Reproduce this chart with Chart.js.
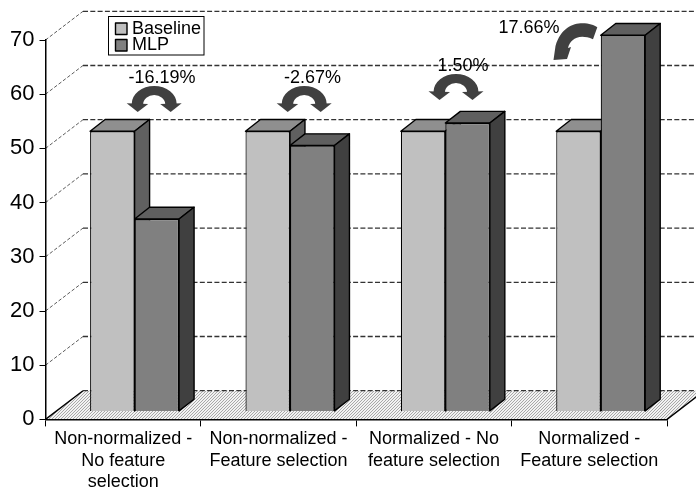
<!DOCTYPE html>
<html>
<head>
<meta charset="utf-8">
<script src="https://cdn.jsdelivr.net/npm/chart.js@4/dist/chart.umd.js"></script>
<style>
body { margin: 0; background: #fff; }
canvas { display: block; }
</style>
</head>
<body>
<canvas id="chart" width="696" height="496"></canvas>
<script>
var categories = [
    ["Non-normalized -", "No feature", "selection"],
    ["Non-normalized -", "Feature selection"],
    ["Normalized - No", "feature selection"],
    ["Normalized -", "Feature selection"]
];
var baseline = [51.7, 51.7, 51.7, 51.7];
var mlp = [35.5, 49.05, 53.2, 69.4];
var changes = ["-16.19%", "-2.67%", "1.50%", "17.66%"];

var FONT = '"Liberation Sans", Arial, sans-serif';
var wallX = 37.5, wallY = 28.7;   // back wall offset
var depthX = 15, depthY = 11.7;   // bar depth
var shiftX = 11.4, shiftY = 8;    // bars stand in the middle of the floor

function hatch() {
    var c = document.createElement('canvas');
    c.width = c.height = 3;
    var g = c.getContext('2d');
    g.fillStyle = '#f2f2f2';
    g.fillRect(0, 0, 3, 3);
    g.fillStyle = '#a8a8a8';
    g.fillRect(2, 0, 1, 1);
    g.fillRect(1, 1, 1, 1);
    g.fillRect(0, 2, 1, 1);
    return g.createPattern(c, 'repeat');
}

function poly(ctx, pts, fill, stroke) {
    ctx.beginPath();
    ctx.moveTo(pts[0], pts[1]);
    for (var i = 2; i < pts.length; i += 2) ctx.lineTo(pts[i], pts[i + 1]);
    ctx.closePath();
    ctx.fillStyle = fill;
    ctx.fill();
    if (stroke) {
        ctx.strokeStyle = stroke;
        ctx.lineWidth = 1.4;
        ctx.lineJoin = 'round';
        ctx.stroke();
    }
}

// curved arrow pointing down on both sides
function archArrow(ctx, cx, top) {
    var cy = top + 18;
    ctx.fillStyle = '#404040';
    ctx.beginPath();
    ctx.ellipse(cx, cy, 22.5, 18, 0, Math.PI, 2 * Math.PI);
    ctx.ellipse(cx, cy, 11, 9, 0, 2 * Math.PI, Math.PI, true);
    ctx.closePath();
    ctx.fill();
    poly(ctx, [cx - 27.5, top + 17.3, cx - 6, top + 18, cx - 16.5, top + 26], '#404040');
    poly(ctx, [cx + 27.5, top + 17.3, cx + 6, top + 18, cx + 16.5, top + 26], '#404040');
}

// single quarter arrow from the last MLP bar to the baseline
function cornerArrow(ctx) {
    ctx.fillStyle = '#404040';
    ctx.beginPath();
    ctx.moveTo(597.3, 27.3);
    ctx.bezierCurveTo(590, 22, 564, 17, 555.5, 46);
    ctx.lineTo(553.5, 60);
    ctx.lineTo(567, 59);
    ctx.lineTo(571, 47);
    ctx.lineTo(568, 48);
    ctx.bezierCurveTo(570, 40, 578, 33, 593, 39.3);
    ctx.closePath();
    ctx.fill();
}

var bars3d = {
    id: 'bars3d',
    // walls and floor go under the axes
    beforeDraw: function (chart) {
        var ctx = chart.ctx, a = chart.chartArea, y = chart.scales.y;
        ctx.save();
        ctx.fillStyle = '#fff';
        ctx.fillRect(0, 0, chart.width, chart.height);
        var py = y.getPixelForValue(0);
        poly(ctx, [a.left, py, a.left + wallX, py - wallY, a.right + wallX, py - wallY, a.right, py], hatch());
        ctx.strokeStyle = '#000';
        ctx.lineWidth = 1.4;
        ctx.beginPath();
        ctx.moveTo(a.left, py);
        ctx.lineTo(a.left + wallX, py - wallY);
        ctx.moveTo(a.right, py);
        ctx.lineTo(a.right + wallX, py - wallY);
        ctx.stroke();
        y.ticks.forEach(function (t) {
            var p = y.getPixelForValue(t.value);
            ctx.strokeStyle = '#333';
            ctx.setLineDash([5, 2.3]);
            ctx.lineWidth = 1.3;
            ctx.beginPath();
            ctx.moveTo(a.left + wallX, p - wallY);
            ctx.lineTo(chart.width, p - wallY);
            ctx.stroke();
            if (t.value > 0) {
                ctx.setLineDash([3.5, 2]);
                ctx.lineWidth = 0.8;
                ctx.beginPath();
                ctx.moveTo(a.left, p);
                ctx.lineTo(a.left + wallX, p - wallY);
                ctx.stroke();
            }
        });
        ctx.restore();
    },
    // tops and sides first, baseline before MLP, the fronts come from the library
    beforeDatasetsDraw: function (chart) {
        var ctx = chart.ctx;
        ctx.save();
        ctx.translate(shiftX, -shiftY);
        chart.data.datasets.forEach(function (ds, i) {
            chart.getDatasetMeta(i).data.forEach(function (bar) {
                var l = bar.x - bar.width / 2, r = bar.x + bar.width / 2;
                poly(ctx, [l, bar.y, l + depthX, bar.y - depthY, r + depthX, bar.y - depthY, r, bar.y], ds.topColor, '#000');
                poly(ctx, [r, bar.y, r + depthX, bar.y - depthY, r + depthX, bar.base - depthY, r, bar.base], ds.sideColor, '#000');
            });
        });
        ctx.restore();
    },
    beforeDatasetDraw: function (chart) {
        chart.ctx.save();
        chart.ctx.translate(shiftX, -shiftY);
    },
    afterDatasetDraw: function (chart) {
        chart.ctx.restore();
    },
    afterDatasetsDraw: function (chart) {
        var ctx = chart.ctx;
        ctx.save();
        archArrow(ctx, 154.2, 86);
        archArrow(ctx, 304.2, 86);
        archArrow(ctx, 456, 74);
        cornerArrow(ctx);

        ctx.font = '18px ' + FONT;
        ctx.textAlign = 'center';
        ctx.textBaseline = 'middle';
        ctx.fillStyle = '#000';
        ctx.fillText(changes[0], 162, 78.5);
        ctx.fillText(changes[1], 312.5, 78.5);
        ctx.fillText(changes[2], 463, 66);
        ctx.fillText(changes[3], 529, 28);

        // legend box
        ctx.fillStyle = '#fff';
        ctx.fillRect(108.5, 16.5, 95.5, 38.5);
        ctx.strokeStyle = '#000';
        ctx.lineWidth = 1;
        ctx.strokeRect(108.5, 16.5, 95.5, 38.5);
        var sets = chart.data.datasets;
        poly(ctx, [115.5, 23, 127, 23, 127, 34.5, 115.5, 34.5], sets[0].backgroundColor, '#000');
        poly(ctx, [115.5, 39.5, 127, 39.5, 127, 51, 115.5, 51], sets[1].backgroundColor, '#000');
        ctx.fillStyle = '#000';
        ctx.textAlign = 'left';
        ctx.fillText(sets[0].label, 132, 29.5);
        ctx.fillText(sets[1].label, 132, 45);
        ctx.restore();
    }
};

new Chart(document.getElementById('chart'), {
    type: 'bar',
    data: {
        labels: categories,
        datasets: [
            {
                label: 'Baseline',
                data: baseline,
                backgroundColor: '#c0c0c0',
                topColor: '#8f8f8f',
                sideColor: '#606060'
            },
            {
                label: 'MLP',
                data: mlp,
                backgroundColor: '#808080',
                topColor: '#5f5f5f',
                sideColor: '#404040'
            }
        ]
    },
    options: {
        responsive: false,
        animation: false,
        layout: { padding: { top: 40, right: 29, left: 0, bottom: 0 } },
        datasets: {
            bar: {
                categoryPercentage: 0.5727,
                barPercentage: 1,
                borderColor: '#000',
                borderWidth: 1.2,
                clip: false
            }
        },
        plugins: { legend: { display: false }, tooltip: { enabled: false } },
        scales: {
            x: {
                afterFit: function (s) { s.height = 76.6; },
                border: { color: '#000', width: 1.5 },
                grid: { drawOnChartArea: false, color: '#000', tickLength: 7, offset: true },
                ticks: { color: '#000', padding: 2, maxRotation: 0, font: { family: FONT, size: 18 } }
            },
            y: {
                min: 0,
                max: 70,
                afterFit: function (s) { s.width = 45.5; },
                border: { color: '#000', width: 1.5 },
                grid: { drawOnChartArea: false, color: '#000', tickLength: 6 },
                ticks: { color: '#000', stepSize: 10, padding: 5, font: { family: FONT, size: 22 } }
            }
        }
    },
    plugins: [bars3d]
});
</script>
</body>
</html>
